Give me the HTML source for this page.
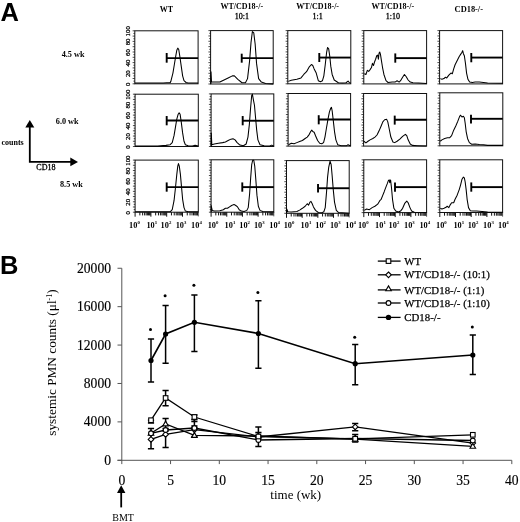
<!DOCTYPE html><html><head><meta charset="utf-8"><style>html,body{margin:0;padding:0;background:#fff;}svg{display:block;filter:blur(0.35px)}</style></head><body>
<svg width="520" height="522" viewBox="0 0 520 522">
<rect width="520" height="522" fill="#fff"/>
<text x="0.4" y="21.2" font-family="Liberation Sans" font-weight="bold" font-size="25.5" fill="#000">A</text>
<text x="0.1" y="273.7" font-family="Liberation Sans" font-weight="bold" font-size="25.5" fill="#000">B</text>
<text x="61.7" y="57" font-family="Liberation Serif" font-weight="bold" font-size="8.2">4.5 wk</text>
<text x="55.8" y="124" font-family="Liberation Serif" font-weight="bold" font-size="8.2">6.0 wk</text>
<text x="60" y="186.5" font-family="Liberation Serif" font-weight="bold" font-size="8.2">8.5 wk</text>
<text x="166.5" y="12" font-family="Liberation Serif" font-weight="bold" font-size="8" text-anchor="middle">WT</text>
<text x="241.8" y="8.9" font-family="Liberation Serif" font-weight="bold" font-size="8" text-anchor="middle">WT/CD18-/-</text>
<text x="241.8" y="18.8" font-family="Liberation Serif" font-size="8" text-anchor="middle" stroke="#000" stroke-width="0.3">10:1</text>
<text x="317.7" y="8.9" font-family="Liberation Serif" font-weight="bold" font-size="8" text-anchor="middle">WT/CD18-/-</text>
<text x="317.7" y="18.8" font-family="Liberation Serif" font-size="8" text-anchor="middle" stroke="#000" stroke-width="0.3">1:1</text>
<text x="392.8" y="8.9" font-family="Liberation Serif" font-weight="bold" font-size="8" text-anchor="middle">WT/CD18-/-</text>
<text x="392.8" y="18.8" font-family="Liberation Serif" font-size="8" text-anchor="middle" stroke="#000" stroke-width="0.3">1:10</text>
<text x="468.8" y="12" font-family="Liberation Serif" font-weight="bold" font-size="8.4" text-anchor="middle">CD18-/-</text>
<path d="M29.8,127 V161.9 H71" fill="none" stroke="#000" stroke-width="1.8"/>
<path d="M29.8,120 L25.3,127.5 L34.3,127.5 Z" fill="#000"/>
<path d="M78,161.9 L70.3,157.6 L70.3,166.2 Z" fill="#000"/>
<text x="1.5" y="145" font-family="Liberation Serif" font-weight="bold" font-size="8">counts</text>
<text x="36.3" y="170.3" font-family="Liberation Serif" font-size="8" stroke="#000" stroke-width="0.3">CD18</text>
<rect x="134.8" y="30.8" width="63.30" height="53.00" fill="none" stroke="#111" stroke-width="1"/>
<line x1="132.60" y1="83.80" x2="134.8" y2="83.80" stroke="#111" stroke-width="0.75"/>
<line x1="133.40" y1="81.15" x2="134.8" y2="81.15" stroke="#111" stroke-width="0.75"/>
<line x1="132.60" y1="78.50" x2="134.8" y2="78.50" stroke="#111" stroke-width="0.75"/>
<line x1="133.40" y1="75.85" x2="134.8" y2="75.85" stroke="#111" stroke-width="0.75"/>
<line x1="132.60" y1="73.20" x2="134.8" y2="73.20" stroke="#111" stroke-width="0.75"/>
<line x1="133.40" y1="70.55" x2="134.8" y2="70.55" stroke="#111" stroke-width="0.75"/>
<line x1="132.60" y1="67.90" x2="134.8" y2="67.90" stroke="#111" stroke-width="0.75"/>
<line x1="133.40" y1="65.25" x2="134.8" y2="65.25" stroke="#111" stroke-width="0.75"/>
<line x1="132.60" y1="62.60" x2="134.8" y2="62.60" stroke="#111" stroke-width="0.75"/>
<line x1="133.40" y1="59.95" x2="134.8" y2="59.95" stroke="#111" stroke-width="0.75"/>
<line x1="132.60" y1="57.30" x2="134.8" y2="57.30" stroke="#111" stroke-width="0.75"/>
<line x1="133.40" y1="54.65" x2="134.8" y2="54.65" stroke="#111" stroke-width="0.75"/>
<line x1="132.60" y1="52.00" x2="134.8" y2="52.00" stroke="#111" stroke-width="0.75"/>
<line x1="133.40" y1="49.35" x2="134.8" y2="49.35" stroke="#111" stroke-width="0.75"/>
<line x1="132.60" y1="46.70" x2="134.8" y2="46.70" stroke="#111" stroke-width="0.75"/>
<line x1="133.40" y1="44.05" x2="134.8" y2="44.05" stroke="#111" stroke-width="0.75"/>
<line x1="132.60" y1="41.40" x2="134.8" y2="41.40" stroke="#111" stroke-width="0.75"/>
<line x1="133.40" y1="38.75" x2="134.8" y2="38.75" stroke="#111" stroke-width="0.75"/>
<line x1="132.60" y1="36.10" x2="134.8" y2="36.10" stroke="#111" stroke-width="0.75"/>
<line x1="133.40" y1="33.45" x2="134.8" y2="33.45" stroke="#111" stroke-width="0.75"/>
<line x1="132.60" y1="30.80" x2="134.8" y2="30.80" stroke="#111" stroke-width="0.75"/>
<polyline points="134.85,83.05 163.23,83.05 166.69,82.77 170.15,82.63 170.85,81.38 172.92,73.08 174.31,64.77 175.69,56.46 176.80,50.23 177.77,48.15 178.74,49.54 179.85,56.46 181.23,66.15 182.62,75.85 184.00,80.69 186.08,82.49 188.15,83.05 198.12,83.05" fill="none" stroke="#000" stroke-width="1.05" stroke-linejoin="round"/>
<line x1="166.69" y1="58.12" x2="198.10" y2="58.12" stroke="#000" stroke-width="1.9"/>
<line x1="166.69" y1="53.00" x2="166.69" y2="62.69" stroke="#000" stroke-width="1.9"/>
<text transform="translate(130,84.30) rotate(-90)" font-family="Liberation Serif" font-size="6.8" text-anchor="middle" stroke="#000" stroke-width="0.25">0</text>
<text transform="translate(130,73.70) rotate(-90)" font-family="Liberation Serif" font-size="6.8" text-anchor="middle" stroke="#000" stroke-width="0.25">20</text>
<text transform="translate(130,63.10) rotate(-90)" font-family="Liberation Serif" font-size="6.8" text-anchor="middle" stroke="#000" stroke-width="0.25">40</text>
<text transform="translate(130,52.50) rotate(-90)" font-family="Liberation Serif" font-size="6.8" text-anchor="middle" stroke="#000" stroke-width="0.25">60</text>
<text transform="translate(130,41.90) rotate(-90)" font-family="Liberation Serif" font-size="6.8" text-anchor="middle" stroke="#000" stroke-width="0.25">80</text>
<text transform="translate(130,31.30) rotate(-90)" font-family="Liberation Serif" font-size="6.8" text-anchor="middle" stroke="#000" stroke-width="0.25">100</text>
<rect x="210.6" y="30.6" width="62.60" height="53.40" fill="none" stroke="#111" stroke-width="1"/>
<line x1="208.40" y1="84.00" x2="210.6" y2="84.00" stroke="#111" stroke-width="0.75"/>
<line x1="209.20" y1="81.33" x2="210.6" y2="81.33" stroke="#111" stroke-width="0.75"/>
<line x1="208.40" y1="78.66" x2="210.6" y2="78.66" stroke="#111" stroke-width="0.75"/>
<line x1="209.20" y1="75.99" x2="210.6" y2="75.99" stroke="#111" stroke-width="0.75"/>
<line x1="208.40" y1="73.32" x2="210.6" y2="73.32" stroke="#111" stroke-width="0.75"/>
<line x1="209.20" y1="70.65" x2="210.6" y2="70.65" stroke="#111" stroke-width="0.75"/>
<line x1="208.40" y1="67.98" x2="210.6" y2="67.98" stroke="#111" stroke-width="0.75"/>
<line x1="209.20" y1="65.31" x2="210.6" y2="65.31" stroke="#111" stroke-width="0.75"/>
<line x1="208.40" y1="62.64" x2="210.6" y2="62.64" stroke="#111" stroke-width="0.75"/>
<line x1="209.20" y1="59.97" x2="210.6" y2="59.97" stroke="#111" stroke-width="0.75"/>
<line x1="208.40" y1="57.30" x2="210.6" y2="57.30" stroke="#111" stroke-width="0.75"/>
<line x1="209.20" y1="54.63" x2="210.6" y2="54.63" stroke="#111" stroke-width="0.75"/>
<line x1="208.40" y1="51.96" x2="210.6" y2="51.96" stroke="#111" stroke-width="0.75"/>
<line x1="209.20" y1="49.29" x2="210.6" y2="49.29" stroke="#111" stroke-width="0.75"/>
<line x1="208.40" y1="46.62" x2="210.6" y2="46.62" stroke="#111" stroke-width="0.75"/>
<line x1="209.20" y1="43.95" x2="210.6" y2="43.95" stroke="#111" stroke-width="0.75"/>
<line x1="208.40" y1="41.28" x2="210.6" y2="41.28" stroke="#111" stroke-width="0.75"/>
<line x1="209.20" y1="38.61" x2="210.6" y2="38.61" stroke="#111" stroke-width="0.75"/>
<line x1="208.40" y1="35.94" x2="210.6" y2="35.94" stroke="#111" stroke-width="0.75"/>
<line x1="209.20" y1="33.27" x2="210.6" y2="33.27" stroke="#111" stroke-width="0.75"/>
<line x1="208.40" y1="30.60" x2="210.6" y2="30.60" stroke="#111" stroke-width="0.75"/>
<polyline points="210.85,83.88 210.98,71.69 211.54,82.08 215.69,82.08 219.85,82.08 224.00,80.00 228.15,77.92 232.31,75.85 234.38,75.85 237.85,79.31 242.00,82.77 245.46,82.77 247.54,78.62 249.62,60.62 251.00,42.62 252.38,31.54 253.77,32.92 255.15,44.00 256.54,63.38 258.62,78.62 261.38,82.08 265.54,83.46 273.15,83.88" fill="none" stroke="#000" stroke-width="1.05" stroke-linejoin="round"/>
<line x1="241.72" y1="58.12" x2="273.20" y2="58.12" stroke="#000" stroke-width="1.9"/>
<line x1="241.72" y1="53.69" x2="241.72" y2="62.69" stroke="#000" stroke-width="1.9"/>
<rect x="287.8" y="30.6" width="63.00" height="53.20" fill="none" stroke="#111" stroke-width="1"/>
<line x1="285.60" y1="83.80" x2="287.8" y2="83.80" stroke="#111" stroke-width="0.75"/>
<line x1="286.40" y1="81.14" x2="287.8" y2="81.14" stroke="#111" stroke-width="0.75"/>
<line x1="285.60" y1="78.48" x2="287.8" y2="78.48" stroke="#111" stroke-width="0.75"/>
<line x1="286.40" y1="75.82" x2="287.8" y2="75.82" stroke="#111" stroke-width="0.75"/>
<line x1="285.60" y1="73.16" x2="287.8" y2="73.16" stroke="#111" stroke-width="0.75"/>
<line x1="286.40" y1="70.50" x2="287.8" y2="70.50" stroke="#111" stroke-width="0.75"/>
<line x1="285.60" y1="67.84" x2="287.8" y2="67.84" stroke="#111" stroke-width="0.75"/>
<line x1="286.40" y1="65.18" x2="287.8" y2="65.18" stroke="#111" stroke-width="0.75"/>
<line x1="285.60" y1="62.52" x2="287.8" y2="62.52" stroke="#111" stroke-width="0.75"/>
<line x1="286.40" y1="59.86" x2="287.8" y2="59.86" stroke="#111" stroke-width="0.75"/>
<line x1="285.60" y1="57.20" x2="287.8" y2="57.20" stroke="#111" stroke-width="0.75"/>
<line x1="286.40" y1="54.54" x2="287.8" y2="54.54" stroke="#111" stroke-width="0.75"/>
<line x1="285.60" y1="51.88" x2="287.8" y2="51.88" stroke="#111" stroke-width="0.75"/>
<line x1="286.40" y1="49.22" x2="287.8" y2="49.22" stroke="#111" stroke-width="0.75"/>
<line x1="285.60" y1="46.56" x2="287.8" y2="46.56" stroke="#111" stroke-width="0.75"/>
<line x1="286.40" y1="43.90" x2="287.8" y2="43.90" stroke="#111" stroke-width="0.75"/>
<line x1="285.60" y1="41.24" x2="287.8" y2="41.24" stroke="#111" stroke-width="0.75"/>
<line x1="286.40" y1="38.58" x2="287.8" y2="38.58" stroke="#111" stroke-width="0.75"/>
<line x1="285.60" y1="35.92" x2="287.8" y2="35.92" stroke="#111" stroke-width="0.75"/>
<line x1="286.40" y1="33.26" x2="287.8" y2="33.26" stroke="#111" stroke-width="0.75"/>
<line x1="285.60" y1="30.60" x2="287.8" y2="30.60" stroke="#111" stroke-width="0.75"/>
<polyline points="288.26,81.38 291.31,80.28 296.85,79.31 301.00,77.92 303.77,74.46 306.54,71.69 309.31,66.85 311.38,64.49 312.77,65.46 314.15,68.92 316.23,73.08 318.31,80.69 320.38,81.66 322.46,80.69 323.85,75.85 325.23,64.77 326.62,52.31 327.58,47.46 328.69,48.85 329.80,56.46 330.77,66.15 332.15,74.46 334.23,80.00 338.38,82.77 342.54,83.05 346.00,82.77 348.08,81.11 349.46,82.77 350.85,83.05" fill="none" stroke="#000" stroke-width="1.05" stroke-linejoin="round"/>
<line x1="319.28" y1="57.57" x2="350.80" y2="57.57" stroke="#000" stroke-width="1.9"/>
<line x1="319.28" y1="53.00" x2="319.28" y2="62.00" stroke="#000" stroke-width="1.9"/>
<rect x="363.8" y="30.6" width="62.80" height="53.30" fill="none" stroke="#111" stroke-width="1"/>
<line x1="361.60" y1="83.90" x2="363.8" y2="83.90" stroke="#111" stroke-width="0.75"/>
<line x1="362.40" y1="81.23" x2="363.8" y2="81.23" stroke="#111" stroke-width="0.75"/>
<line x1="361.60" y1="78.57" x2="363.8" y2="78.57" stroke="#111" stroke-width="0.75"/>
<line x1="362.40" y1="75.91" x2="363.8" y2="75.91" stroke="#111" stroke-width="0.75"/>
<line x1="361.60" y1="73.24" x2="363.8" y2="73.24" stroke="#111" stroke-width="0.75"/>
<line x1="362.40" y1="70.58" x2="363.8" y2="70.58" stroke="#111" stroke-width="0.75"/>
<line x1="361.60" y1="67.91" x2="363.8" y2="67.91" stroke="#111" stroke-width="0.75"/>
<line x1="362.40" y1="65.25" x2="363.8" y2="65.25" stroke="#111" stroke-width="0.75"/>
<line x1="361.60" y1="62.58" x2="363.8" y2="62.58" stroke="#111" stroke-width="0.75"/>
<line x1="362.40" y1="59.92" x2="363.8" y2="59.92" stroke="#111" stroke-width="0.75"/>
<line x1="361.60" y1="57.25" x2="363.8" y2="57.25" stroke="#111" stroke-width="0.75"/>
<line x1="362.40" y1="54.59" x2="363.8" y2="54.59" stroke="#111" stroke-width="0.75"/>
<line x1="361.60" y1="51.92" x2="363.8" y2="51.92" stroke="#111" stroke-width="0.75"/>
<line x1="362.40" y1="49.26" x2="363.8" y2="49.26" stroke="#111" stroke-width="0.75"/>
<line x1="361.60" y1="46.59" x2="363.8" y2="46.59" stroke="#111" stroke-width="0.75"/>
<line x1="362.40" y1="43.92" x2="363.8" y2="43.92" stroke="#111" stroke-width="0.75"/>
<line x1="361.60" y1="41.26" x2="363.8" y2="41.26" stroke="#111" stroke-width="0.75"/>
<line x1="362.40" y1="38.60" x2="363.8" y2="38.60" stroke="#111" stroke-width="0.75"/>
<line x1="361.60" y1="35.93" x2="363.8" y2="35.93" stroke="#111" stroke-width="0.75"/>
<line x1="362.40" y1="33.27" x2="363.8" y2="33.27" stroke="#111" stroke-width="0.75"/>
<line x1="361.60" y1="30.60" x2="363.8" y2="30.60" stroke="#111" stroke-width="0.75"/>
<polyline points="364.26,73.77 365.92,74.46 367.31,70.31 368.69,71.42 370.08,69.62 371.46,67.54 372.43,63.38 373.54,65.46 374.51,62.00 375.62,59.23 376.72,55.77 377.69,55.08 378.38,59.23 379.08,53.00 379.77,52.03 380.46,54.38 381.43,60.62 382.54,67.54 383.92,74.46 386.00,80.69 388.08,82.49 392.23,82.08 395.00,82.08 397.08,80.69 399.15,82.08 400.54,80.69 402.62,77.23 404.42,74.46 406.08,76.54 408.15,80.00 410.23,82.08 413.00,82.77 418.54,83.05 426.57,83.46" fill="none" stroke="#000" stroke-width="1.05" stroke-linejoin="round"/>
<line x1="395.28" y1="58.12" x2="426.60" y2="58.12" stroke="#000" stroke-width="1.9"/>
<line x1="395.28" y1="53.42" x2="395.28" y2="62.69" stroke="#000" stroke-width="1.9"/>
<rect x="439.6" y="30.6" width="63.00" height="53.30" fill="none" stroke="#111" stroke-width="1"/>
<line x1="437.40" y1="83.90" x2="439.6" y2="83.90" stroke="#111" stroke-width="0.75"/>
<line x1="438.20" y1="81.23" x2="439.6" y2="81.23" stroke="#111" stroke-width="0.75"/>
<line x1="437.40" y1="78.57" x2="439.6" y2="78.57" stroke="#111" stroke-width="0.75"/>
<line x1="438.20" y1="75.91" x2="439.6" y2="75.91" stroke="#111" stroke-width="0.75"/>
<line x1="437.40" y1="73.24" x2="439.6" y2="73.24" stroke="#111" stroke-width="0.75"/>
<line x1="438.20" y1="70.58" x2="439.6" y2="70.58" stroke="#111" stroke-width="0.75"/>
<line x1="437.40" y1="67.91" x2="439.6" y2="67.91" stroke="#111" stroke-width="0.75"/>
<line x1="438.20" y1="65.25" x2="439.6" y2="65.25" stroke="#111" stroke-width="0.75"/>
<line x1="437.40" y1="62.58" x2="439.6" y2="62.58" stroke="#111" stroke-width="0.75"/>
<line x1="438.20" y1="59.92" x2="439.6" y2="59.92" stroke="#111" stroke-width="0.75"/>
<line x1="437.40" y1="57.25" x2="439.6" y2="57.25" stroke="#111" stroke-width="0.75"/>
<line x1="438.20" y1="54.59" x2="439.6" y2="54.59" stroke="#111" stroke-width="0.75"/>
<line x1="437.40" y1="51.92" x2="439.6" y2="51.92" stroke="#111" stroke-width="0.75"/>
<line x1="438.20" y1="49.26" x2="439.6" y2="49.26" stroke="#111" stroke-width="0.75"/>
<line x1="437.40" y1="46.59" x2="439.6" y2="46.59" stroke="#111" stroke-width="0.75"/>
<line x1="438.20" y1="43.92" x2="439.6" y2="43.92" stroke="#111" stroke-width="0.75"/>
<line x1="437.40" y1="41.26" x2="439.6" y2="41.26" stroke="#111" stroke-width="0.75"/>
<line x1="438.20" y1="38.60" x2="439.6" y2="38.60" stroke="#111" stroke-width="0.75"/>
<line x1="437.40" y1="35.93" x2="439.6" y2="35.93" stroke="#111" stroke-width="0.75"/>
<line x1="438.20" y1="33.27" x2="439.6" y2="33.27" stroke="#111" stroke-width="0.75"/>
<line x1="437.40" y1="30.60" x2="439.6" y2="30.60" stroke="#111" stroke-width="0.75"/>
<polyline points="440.26,78.62 441.92,79.31 444.00,78.62 445.38,77.23 446.77,77.92 448.85,75.15 450.92,73.08 452.31,73.77 453.69,68.92 455.08,64.77 456.46,62.00 457.85,59.23 459.23,56.46 460.62,54.38 462.00,52.31 462.69,50.65 463.38,53.69 464.35,55.77 465.46,63.38 466.57,73.08 467.95,79.31 469.62,82.08 472.38,82.49 475.15,82.08 479.31,82.08 483.46,82.49 487.62,83.05 502.57,83.18" fill="none" stroke="#000" stroke-width="1.05" stroke-linejoin="round"/>
<line x1="471.28" y1="57.57" x2="502.60" y2="57.57" stroke="#000" stroke-width="1.9"/>
<line x1="471.28" y1="53.00" x2="471.28" y2="62.28" stroke="#000" stroke-width="1.9"/>
<rect x="135.1" y="94.2" width="63.20" height="52.30" fill="none" stroke="#111" stroke-width="1"/>
<line x1="132.90" y1="146.50" x2="135.1" y2="146.50" stroke="#111" stroke-width="0.75"/>
<line x1="133.70" y1="143.88" x2="135.1" y2="143.88" stroke="#111" stroke-width="0.75"/>
<line x1="132.90" y1="141.27" x2="135.1" y2="141.27" stroke="#111" stroke-width="0.75"/>
<line x1="133.70" y1="138.66" x2="135.1" y2="138.66" stroke="#111" stroke-width="0.75"/>
<line x1="132.90" y1="136.04" x2="135.1" y2="136.04" stroke="#111" stroke-width="0.75"/>
<line x1="133.70" y1="133.43" x2="135.1" y2="133.43" stroke="#111" stroke-width="0.75"/>
<line x1="132.90" y1="130.81" x2="135.1" y2="130.81" stroke="#111" stroke-width="0.75"/>
<line x1="133.70" y1="128.19" x2="135.1" y2="128.19" stroke="#111" stroke-width="0.75"/>
<line x1="132.90" y1="125.58" x2="135.1" y2="125.58" stroke="#111" stroke-width="0.75"/>
<line x1="133.70" y1="122.97" x2="135.1" y2="122.97" stroke="#111" stroke-width="0.75"/>
<line x1="132.90" y1="120.35" x2="135.1" y2="120.35" stroke="#111" stroke-width="0.75"/>
<line x1="133.70" y1="117.73" x2="135.1" y2="117.73" stroke="#111" stroke-width="0.75"/>
<line x1="132.90" y1="115.12" x2="135.1" y2="115.12" stroke="#111" stroke-width="0.75"/>
<line x1="133.70" y1="112.50" x2="135.1" y2="112.50" stroke="#111" stroke-width="0.75"/>
<line x1="132.90" y1="109.89" x2="135.1" y2="109.89" stroke="#111" stroke-width="0.75"/>
<line x1="133.70" y1="107.28" x2="135.1" y2="107.28" stroke="#111" stroke-width="0.75"/>
<line x1="132.90" y1="104.66" x2="135.1" y2="104.66" stroke="#111" stroke-width="0.75"/>
<line x1="133.70" y1="102.05" x2="135.1" y2="102.05" stroke="#111" stroke-width="0.75"/>
<line x1="132.90" y1="99.43" x2="135.1" y2="99.43" stroke="#111" stroke-width="0.75"/>
<line x1="133.70" y1="96.81" x2="135.1" y2="96.81" stroke="#111" stroke-width="0.75"/>
<line x1="132.90" y1="94.20" x2="135.1" y2="94.20" stroke="#111" stroke-width="0.75"/>
<polyline points="135.12,146.08 157.69,146.08 166.00,145.38 170.15,144.69 172.23,142.62 174.03,135.69 175.42,127.38 176.80,119.08 178.18,114.23 179.15,112.85 180.12,114.23 181.23,121.85 182.62,132.92 184.00,141.23 185.38,144.69 188.15,145.66 192.31,146.08 195.08,145.38 198.26,146.08" fill="none" stroke="#000" stroke-width="1.05" stroke-linejoin="round"/>
<line x1="166.69" y1="120.46" x2="198.30" y2="120.46" stroke="#000" stroke-width="1.9"/>
<line x1="166.69" y1="116.03" x2="166.69" y2="125.31" stroke="#000" stroke-width="1.9"/>
<text transform="translate(130,147.00) rotate(-90)" font-family="Liberation Serif" font-size="6.8" text-anchor="middle" stroke="#000" stroke-width="0.25">0</text>
<text transform="translate(130,136.54) rotate(-90)" font-family="Liberation Serif" font-size="6.8" text-anchor="middle" stroke="#000" stroke-width="0.25">20</text>
<text transform="translate(130,126.08) rotate(-90)" font-family="Liberation Serif" font-size="6.8" text-anchor="middle" stroke="#000" stroke-width="0.25">40</text>
<text transform="translate(130,115.62) rotate(-90)" font-family="Liberation Serif" font-size="6.8" text-anchor="middle" stroke="#000" stroke-width="0.25">60</text>
<text transform="translate(130,105.16) rotate(-90)" font-family="Liberation Serif" font-size="6.8" text-anchor="middle" stroke="#000" stroke-width="0.25">80</text>
<text transform="translate(130,94.70) rotate(-90)" font-family="Liberation Serif" font-size="6.8" text-anchor="middle" stroke="#000" stroke-width="0.25">100</text>
<rect x="211.1" y="93.9" width="62.70" height="52.60" fill="none" stroke="#111" stroke-width="1"/>
<line x1="208.90" y1="146.50" x2="211.1" y2="146.50" stroke="#111" stroke-width="0.75"/>
<line x1="209.70" y1="143.87" x2="211.1" y2="143.87" stroke="#111" stroke-width="0.75"/>
<line x1="208.90" y1="141.24" x2="211.1" y2="141.24" stroke="#111" stroke-width="0.75"/>
<line x1="209.70" y1="138.61" x2="211.1" y2="138.61" stroke="#111" stroke-width="0.75"/>
<line x1="208.90" y1="135.98" x2="211.1" y2="135.98" stroke="#111" stroke-width="0.75"/>
<line x1="209.70" y1="133.35" x2="211.1" y2="133.35" stroke="#111" stroke-width="0.75"/>
<line x1="208.90" y1="130.72" x2="211.1" y2="130.72" stroke="#111" stroke-width="0.75"/>
<line x1="209.70" y1="128.09" x2="211.1" y2="128.09" stroke="#111" stroke-width="0.75"/>
<line x1="208.90" y1="125.46" x2="211.1" y2="125.46" stroke="#111" stroke-width="0.75"/>
<line x1="209.70" y1="122.83" x2="211.1" y2="122.83" stroke="#111" stroke-width="0.75"/>
<line x1="208.90" y1="120.20" x2="211.1" y2="120.20" stroke="#111" stroke-width="0.75"/>
<line x1="209.70" y1="117.57" x2="211.1" y2="117.57" stroke="#111" stroke-width="0.75"/>
<line x1="208.90" y1="114.94" x2="211.1" y2="114.94" stroke="#111" stroke-width="0.75"/>
<line x1="209.70" y1="112.31" x2="211.1" y2="112.31" stroke="#111" stroke-width="0.75"/>
<line x1="208.90" y1="109.68" x2="211.1" y2="109.68" stroke="#111" stroke-width="0.75"/>
<line x1="209.70" y1="107.05" x2="211.1" y2="107.05" stroke="#111" stroke-width="0.75"/>
<line x1="208.90" y1="104.42" x2="211.1" y2="104.42" stroke="#111" stroke-width="0.75"/>
<line x1="209.70" y1="101.79" x2="211.1" y2="101.79" stroke="#111" stroke-width="0.75"/>
<line x1="208.90" y1="99.16" x2="211.1" y2="99.16" stroke="#111" stroke-width="0.75"/>
<line x1="209.70" y1="96.53" x2="211.1" y2="96.53" stroke="#111" stroke-width="0.75"/>
<line x1="208.90" y1="93.90" x2="211.1" y2="93.90" stroke="#111" stroke-width="0.75"/>
<polyline points="211.12,146.49 211.26,132.92 211.82,144.69 214.31,144.00 218.46,143.31 222.62,142.62 225.38,141.92 228.15,140.54 230.92,139.15 233.00,138.74 235.08,139.85 237.15,142.62 239.92,145.11 243.38,145.80 246.15,144.00 247.95,137.08 249.34,124.62 250.58,108.00 251.69,95.54 252.38,94.15 253.35,99.69 254.46,105.23 255.57,117.69 256.68,130.15 257.92,139.85 260.00,144.69 264.15,145.80 269.69,146.08 271.77,145.11 273.85,146.08" fill="none" stroke="#000" stroke-width="1.05" stroke-linejoin="round"/>
<line x1="242.69" y1="120.74" x2="273.80" y2="120.74" stroke="#000" stroke-width="1.9"/>
<line x1="242.69" y1="116.03" x2="242.69" y2="125.31" stroke="#000" stroke-width="1.9"/>
<rect x="288.1" y="93.5" width="62.50" height="52.60" fill="none" stroke="#111" stroke-width="1"/>
<line x1="285.90" y1="146.10" x2="288.1" y2="146.10" stroke="#111" stroke-width="0.75"/>
<line x1="286.70" y1="143.47" x2="288.1" y2="143.47" stroke="#111" stroke-width="0.75"/>
<line x1="285.90" y1="140.84" x2="288.1" y2="140.84" stroke="#111" stroke-width="0.75"/>
<line x1="286.70" y1="138.21" x2="288.1" y2="138.21" stroke="#111" stroke-width="0.75"/>
<line x1="285.90" y1="135.58" x2="288.1" y2="135.58" stroke="#111" stroke-width="0.75"/>
<line x1="286.70" y1="132.95" x2="288.1" y2="132.95" stroke="#111" stroke-width="0.75"/>
<line x1="285.90" y1="130.32" x2="288.1" y2="130.32" stroke="#111" stroke-width="0.75"/>
<line x1="286.70" y1="127.69" x2="288.1" y2="127.69" stroke="#111" stroke-width="0.75"/>
<line x1="285.90" y1="125.06" x2="288.1" y2="125.06" stroke="#111" stroke-width="0.75"/>
<line x1="286.70" y1="122.43" x2="288.1" y2="122.43" stroke="#111" stroke-width="0.75"/>
<line x1="285.90" y1="119.80" x2="288.1" y2="119.80" stroke="#111" stroke-width="0.75"/>
<line x1="286.70" y1="117.17" x2="288.1" y2="117.17" stroke="#111" stroke-width="0.75"/>
<line x1="285.90" y1="114.54" x2="288.1" y2="114.54" stroke="#111" stroke-width="0.75"/>
<line x1="286.70" y1="111.91" x2="288.1" y2="111.91" stroke="#111" stroke-width="0.75"/>
<line x1="285.90" y1="109.28" x2="288.1" y2="109.28" stroke="#111" stroke-width="0.75"/>
<line x1="286.70" y1="106.65" x2="288.1" y2="106.65" stroke="#111" stroke-width="0.75"/>
<line x1="285.90" y1="104.02" x2="288.1" y2="104.02" stroke="#111" stroke-width="0.75"/>
<line x1="286.70" y1="101.39" x2="288.1" y2="101.39" stroke="#111" stroke-width="0.75"/>
<line x1="285.90" y1="98.76" x2="288.1" y2="98.76" stroke="#111" stroke-width="0.75"/>
<line x1="286.70" y1="96.13" x2="288.1" y2="96.13" stroke="#111" stroke-width="0.75"/>
<line x1="285.90" y1="93.50" x2="288.1" y2="93.50" stroke="#111" stroke-width="0.75"/>
<polyline points="288.54,144.69 291.31,143.31 294.08,143.72 296.85,142.62 299.62,141.51 302.38,140.54 305.15,138.46 307.23,137.08 309.31,134.31 310.69,131.54 311.80,130.15 312.77,131.54 314.15,132.23 315.54,135.69 317.62,140.54 319.69,143.31 321.77,143.72 323.57,142.62 324.95,137.08 326.34,128.77 328.00,119.08 329.38,112.15 330.77,108.00 331.46,107.31 332.15,110.77 333.12,119.08 334.51,131.54 335.89,139.85 337.69,144.69 341.15,145.66 346.69,145.66 348.08,144.69 350.57,146.08" fill="none" stroke="#000" stroke-width="1.05" stroke-linejoin="round"/>
<line x1="318.72" y1="119.49" x2="350.60" y2="119.49" stroke="#000" stroke-width="1.9"/>
<line x1="318.72" y1="115.20" x2="318.72" y2="124.34" stroke="#000" stroke-width="1.9"/>
<rect x="363.6" y="93.5" width="63.00" height="52.60" fill="none" stroke="#111" stroke-width="1"/>
<line x1="361.40" y1="146.10" x2="363.6" y2="146.10" stroke="#111" stroke-width="0.75"/>
<line x1="362.20" y1="143.47" x2="363.6" y2="143.47" stroke="#111" stroke-width="0.75"/>
<line x1="361.40" y1="140.84" x2="363.6" y2="140.84" stroke="#111" stroke-width="0.75"/>
<line x1="362.20" y1="138.21" x2="363.6" y2="138.21" stroke="#111" stroke-width="0.75"/>
<line x1="361.40" y1="135.58" x2="363.6" y2="135.58" stroke="#111" stroke-width="0.75"/>
<line x1="362.20" y1="132.95" x2="363.6" y2="132.95" stroke="#111" stroke-width="0.75"/>
<line x1="361.40" y1="130.32" x2="363.6" y2="130.32" stroke="#111" stroke-width="0.75"/>
<line x1="362.20" y1="127.69" x2="363.6" y2="127.69" stroke="#111" stroke-width="0.75"/>
<line x1="361.40" y1="125.06" x2="363.6" y2="125.06" stroke="#111" stroke-width="0.75"/>
<line x1="362.20" y1="122.43" x2="363.6" y2="122.43" stroke="#111" stroke-width="0.75"/>
<line x1="361.40" y1="119.80" x2="363.6" y2="119.80" stroke="#111" stroke-width="0.75"/>
<line x1="362.20" y1="117.17" x2="363.6" y2="117.17" stroke="#111" stroke-width="0.75"/>
<line x1="361.40" y1="114.54" x2="363.6" y2="114.54" stroke="#111" stroke-width="0.75"/>
<line x1="362.20" y1="111.91" x2="363.6" y2="111.91" stroke="#111" stroke-width="0.75"/>
<line x1="361.40" y1="109.28" x2="363.6" y2="109.28" stroke="#111" stroke-width="0.75"/>
<line x1="362.20" y1="106.65" x2="363.6" y2="106.65" stroke="#111" stroke-width="0.75"/>
<line x1="361.40" y1="104.02" x2="363.6" y2="104.02" stroke="#111" stroke-width="0.75"/>
<line x1="362.20" y1="101.39" x2="363.6" y2="101.39" stroke="#111" stroke-width="0.75"/>
<line x1="361.40" y1="98.76" x2="363.6" y2="98.76" stroke="#111" stroke-width="0.75"/>
<line x1="362.20" y1="96.13" x2="363.6" y2="96.13" stroke="#111" stroke-width="0.75"/>
<line x1="361.40" y1="93.50" x2="363.6" y2="93.50" stroke="#111" stroke-width="0.75"/>
<polyline points="363.85,141.23 365.92,142.89 368.00,141.23 370.08,139.85 372.85,138.46 374.92,137.08 377.00,135.00 379.08,130.85 381.15,126.00 382.82,121.85 384.62,119.77 386.69,119.35 387.80,121.85 389.18,128.77 390.85,137.08 392.92,141.92 394.72,142.62 397.08,141.23 399.85,139.15 402.62,136.38 405.38,134.31 406.77,135.69 408.15,139.85 410.23,144.00 412.31,145.38 417.15,145.66 426.57,146.08" fill="none" stroke="#000" stroke-width="1.05" stroke-linejoin="round"/>
<line x1="394.72" y1="119.77" x2="426.60" y2="119.77" stroke="#000" stroke-width="1.9"/>
<line x1="394.72" y1="115.62" x2="394.72" y2="124.62" stroke="#000" stroke-width="1.9"/>
<rect x="439.8" y="92.8" width="63.00" height="53.00" fill="none" stroke="#111" stroke-width="1"/>
<line x1="437.60" y1="145.80" x2="439.8" y2="145.80" stroke="#111" stroke-width="0.75"/>
<line x1="438.40" y1="143.15" x2="439.8" y2="143.15" stroke="#111" stroke-width="0.75"/>
<line x1="437.60" y1="140.50" x2="439.8" y2="140.50" stroke="#111" stroke-width="0.75"/>
<line x1="438.40" y1="137.85" x2="439.8" y2="137.85" stroke="#111" stroke-width="0.75"/>
<line x1="437.60" y1="135.20" x2="439.8" y2="135.20" stroke="#111" stroke-width="0.75"/>
<line x1="438.40" y1="132.55" x2="439.8" y2="132.55" stroke="#111" stroke-width="0.75"/>
<line x1="437.60" y1="129.90" x2="439.8" y2="129.90" stroke="#111" stroke-width="0.75"/>
<line x1="438.40" y1="127.25" x2="439.8" y2="127.25" stroke="#111" stroke-width="0.75"/>
<line x1="437.60" y1="124.60" x2="439.8" y2="124.60" stroke="#111" stroke-width="0.75"/>
<line x1="438.40" y1="121.95" x2="439.8" y2="121.95" stroke="#111" stroke-width="0.75"/>
<line x1="437.60" y1="119.30" x2="439.8" y2="119.30" stroke="#111" stroke-width="0.75"/>
<line x1="438.40" y1="116.65" x2="439.8" y2="116.65" stroke="#111" stroke-width="0.75"/>
<line x1="437.60" y1="114.00" x2="439.8" y2="114.00" stroke="#111" stroke-width="0.75"/>
<line x1="438.40" y1="111.35" x2="439.8" y2="111.35" stroke="#111" stroke-width="0.75"/>
<line x1="437.60" y1="108.70" x2="439.8" y2="108.70" stroke="#111" stroke-width="0.75"/>
<line x1="438.40" y1="106.05" x2="439.8" y2="106.05" stroke="#111" stroke-width="0.75"/>
<line x1="437.60" y1="103.40" x2="439.8" y2="103.40" stroke="#111" stroke-width="0.75"/>
<line x1="438.40" y1="100.75" x2="439.8" y2="100.75" stroke="#111" stroke-width="0.75"/>
<line x1="437.60" y1="98.10" x2="439.8" y2="98.10" stroke="#111" stroke-width="0.75"/>
<line x1="438.40" y1="95.45" x2="439.8" y2="95.45" stroke="#111" stroke-width="0.75"/>
<line x1="437.60" y1="92.80" x2="439.8" y2="92.80" stroke="#111" stroke-width="0.75"/>
<polyline points="440.26,141.23 441.92,139.85 444.69,138.46 447.46,137.77 449.54,137.77 451.62,135.69 453.69,130.15 455.77,126.00 457.85,121.15 459.65,116.31 460.62,115.20 462.00,117.00 463.38,116.31 464.35,117.69 465.18,123.23 466.15,131.54 467.54,138.46 469.34,142.62 471.69,144.28 475.15,144.00 479.31,144.42 483.46,144.69 487.62,145.38 493.15,145.38 502.85,145.38" fill="none" stroke="#000" stroke-width="1.05" stroke-linejoin="round"/>
<line x1="471.00" y1="118.80" x2="502.80" y2="118.80" stroke="#000" stroke-width="1.9"/>
<line x1="471.00" y1="114.65" x2="471.00" y2="123.51" stroke="#000" stroke-width="1.9"/>
<rect x="135.1" y="160.1" width="63.20" height="52.10" fill="none" stroke="#111" stroke-width="1"/>
<line x1="132.90" y1="212.20" x2="135.1" y2="212.20" stroke="#111" stroke-width="0.75"/>
<line x1="133.70" y1="209.59" x2="135.1" y2="209.59" stroke="#111" stroke-width="0.75"/>
<line x1="132.90" y1="206.99" x2="135.1" y2="206.99" stroke="#111" stroke-width="0.75"/>
<line x1="133.70" y1="204.38" x2="135.1" y2="204.38" stroke="#111" stroke-width="0.75"/>
<line x1="132.90" y1="201.78" x2="135.1" y2="201.78" stroke="#111" stroke-width="0.75"/>
<line x1="133.70" y1="199.17" x2="135.1" y2="199.17" stroke="#111" stroke-width="0.75"/>
<line x1="132.90" y1="196.57" x2="135.1" y2="196.57" stroke="#111" stroke-width="0.75"/>
<line x1="133.70" y1="193.97" x2="135.1" y2="193.97" stroke="#111" stroke-width="0.75"/>
<line x1="132.90" y1="191.36" x2="135.1" y2="191.36" stroke="#111" stroke-width="0.75"/>
<line x1="133.70" y1="188.75" x2="135.1" y2="188.75" stroke="#111" stroke-width="0.75"/>
<line x1="132.90" y1="186.15" x2="135.1" y2="186.15" stroke="#111" stroke-width="0.75"/>
<line x1="133.70" y1="183.54" x2="135.1" y2="183.54" stroke="#111" stroke-width="0.75"/>
<line x1="132.90" y1="180.94" x2="135.1" y2="180.94" stroke="#111" stroke-width="0.75"/>
<line x1="133.70" y1="178.33" x2="135.1" y2="178.33" stroke="#111" stroke-width="0.75"/>
<line x1="132.90" y1="175.73" x2="135.1" y2="175.73" stroke="#111" stroke-width="0.75"/>
<line x1="133.70" y1="173.12" x2="135.1" y2="173.12" stroke="#111" stroke-width="0.75"/>
<line x1="132.90" y1="170.52" x2="135.1" y2="170.52" stroke="#111" stroke-width="0.75"/>
<line x1="133.70" y1="167.91" x2="135.1" y2="167.91" stroke="#111" stroke-width="0.75"/>
<line x1="132.90" y1="165.31" x2="135.1" y2="165.31" stroke="#111" stroke-width="0.75"/>
<line x1="133.70" y1="162.70" x2="135.1" y2="162.70" stroke="#111" stroke-width="0.75"/>
<line x1="132.90" y1="160.10" x2="135.1" y2="160.10" stroke="#111" stroke-width="0.75"/>
<polyline points="135.12,211.77 170.15,211.77 172.23,209.69 174.03,200.69 175.42,188.23 176.80,174.38 177.77,166.08 178.46,163.58 179.29,166.08 180.40,174.38 181.51,186.85 182.62,199.31 184.00,207.62 185.38,211.08 188.15,211.77 198.26,211.77" fill="none" stroke="#000" stroke-width="1.05" stroke-linejoin="round"/>
<line x1="166.69" y1="187.12" x2="198.30" y2="187.12" stroke="#000" stroke-width="1.9"/>
<line x1="166.69" y1="182.42" x2="166.69" y2="191.69" stroke="#000" stroke-width="1.9"/>
<text transform="translate(130,212.70) rotate(-90)" font-family="Liberation Serif" font-size="6.8" text-anchor="middle" stroke="#000" stroke-width="0.25">0</text>
<text transform="translate(130,202.28) rotate(-90)" font-family="Liberation Serif" font-size="6.8" text-anchor="middle" stroke="#000" stroke-width="0.25">20</text>
<text transform="translate(130,191.86) rotate(-90)" font-family="Liberation Serif" font-size="6.8" text-anchor="middle" stroke="#000" stroke-width="0.25">40</text>
<text transform="translate(130,181.44) rotate(-90)" font-family="Liberation Serif" font-size="6.8" text-anchor="middle" stroke="#000" stroke-width="0.25">60</text>
<text transform="translate(130,171.02) rotate(-90)" font-family="Liberation Serif" font-size="6.8" text-anchor="middle" stroke="#000" stroke-width="0.25">80</text>
<text transform="translate(130,160.60) rotate(-90)" font-family="Liberation Serif" font-size="6.8" text-anchor="middle" stroke="#000" stroke-width="0.25">100</text>
<line x1="135.10" y1="212.2" x2="135.10" y2="216.70" stroke="#111" stroke-width="1.0"/>
<line x1="139.86" y1="212.2" x2="139.86" y2="215.40" stroke="#111" stroke-width="1.0"/>
<line x1="142.64" y1="212.2" x2="142.64" y2="215.40" stroke="#111" stroke-width="1.0"/>
<line x1="144.61" y1="212.2" x2="144.61" y2="215.40" stroke="#111" stroke-width="1.0"/>
<line x1="146.14" y1="212.2" x2="146.14" y2="215.40" stroke="#111" stroke-width="1.0"/>
<line x1="147.39" y1="212.2" x2="147.39" y2="215.40" stroke="#111" stroke-width="1.0"/>
<line x1="148.45" y1="212.2" x2="148.45" y2="215.40" stroke="#111" stroke-width="1.0"/>
<line x1="149.37" y1="212.2" x2="149.37" y2="215.40" stroke="#111" stroke-width="1.0"/>
<line x1="150.18" y1="212.2" x2="150.18" y2="215.40" stroke="#111" stroke-width="1.0"/>
<line x1="150.90" y1="212.2" x2="150.90" y2="216.70" stroke="#111" stroke-width="1.0"/>
<line x1="155.66" y1="212.2" x2="155.66" y2="215.40" stroke="#111" stroke-width="1.0"/>
<line x1="158.44" y1="212.2" x2="158.44" y2="215.40" stroke="#111" stroke-width="1.0"/>
<line x1="160.41" y1="212.2" x2="160.41" y2="215.40" stroke="#111" stroke-width="1.0"/>
<line x1="161.94" y1="212.2" x2="161.94" y2="215.40" stroke="#111" stroke-width="1.0"/>
<line x1="163.19" y1="212.2" x2="163.19" y2="215.40" stroke="#111" stroke-width="1.0"/>
<line x1="164.25" y1="212.2" x2="164.25" y2="215.40" stroke="#111" stroke-width="1.0"/>
<line x1="165.17" y1="212.2" x2="165.17" y2="215.40" stroke="#111" stroke-width="1.0"/>
<line x1="165.98" y1="212.2" x2="165.98" y2="215.40" stroke="#111" stroke-width="1.0"/>
<line x1="166.70" y1="212.2" x2="166.70" y2="216.70" stroke="#111" stroke-width="1.0"/>
<line x1="171.46" y1="212.2" x2="171.46" y2="215.40" stroke="#111" stroke-width="1.0"/>
<line x1="174.24" y1="212.2" x2="174.24" y2="215.40" stroke="#111" stroke-width="1.0"/>
<line x1="176.21" y1="212.2" x2="176.21" y2="215.40" stroke="#111" stroke-width="1.0"/>
<line x1="177.74" y1="212.2" x2="177.74" y2="215.40" stroke="#111" stroke-width="1.0"/>
<line x1="178.99" y1="212.2" x2="178.99" y2="215.40" stroke="#111" stroke-width="1.0"/>
<line x1="180.05" y1="212.2" x2="180.05" y2="215.40" stroke="#111" stroke-width="1.0"/>
<line x1="180.97" y1="212.2" x2="180.97" y2="215.40" stroke="#111" stroke-width="1.0"/>
<line x1="181.78" y1="212.2" x2="181.78" y2="215.40" stroke="#111" stroke-width="1.0"/>
<line x1="182.50" y1="212.2" x2="182.50" y2="216.70" stroke="#111" stroke-width="1.0"/>
<line x1="187.26" y1="212.2" x2="187.26" y2="215.40" stroke="#111" stroke-width="1.0"/>
<line x1="190.04" y1="212.2" x2="190.04" y2="215.40" stroke="#111" stroke-width="1.0"/>
<line x1="192.01" y1="212.2" x2="192.01" y2="215.40" stroke="#111" stroke-width="1.0"/>
<line x1="193.54" y1="212.2" x2="193.54" y2="215.40" stroke="#111" stroke-width="1.0"/>
<line x1="194.79" y1="212.2" x2="194.79" y2="215.40" stroke="#111" stroke-width="1.0"/>
<line x1="195.85" y1="212.2" x2="195.85" y2="215.40" stroke="#111" stroke-width="1.0"/>
<line x1="196.77" y1="212.2" x2="196.77" y2="215.40" stroke="#111" stroke-width="1.0"/>
<line x1="197.58" y1="212.2" x2="197.58" y2="215.40" stroke="#111" stroke-width="1.0"/>
<line x1="198.30" y1="212.2" x2="198.30" y2="216.40" stroke="#222" stroke-width="0.7"/>
<text x="129.10" y="227.8" font-family="Liberation Serif" font-size="8.3" font-weight="bold">10<tspan dy="-3.4" font-size="4.8">0</tspan></text>
<text x="146.40" y="227.8" font-family="Liberation Serif" font-size="8.3" font-weight="bold">10<tspan dy="-3.4" font-size="4.8">1</tspan></text>
<text x="160.60" y="227.8" font-family="Liberation Serif" font-size="8.3" font-weight="bold">10<tspan dy="-3.4" font-size="4.8">2</tspan></text>
<text x="175.70" y="227.8" font-family="Liberation Serif" font-size="8.3" font-weight="bold">10<tspan dy="-3.4" font-size="4.8">3</tspan></text>
<text x="191.10" y="227.8" font-family="Liberation Serif" font-size="8.3" font-weight="bold">10<tspan dy="-3.4" font-size="4.8">4</tspan></text>
<rect x="211.1" y="159.8" width="62.70" height="52.40" fill="none" stroke="#111" stroke-width="1"/>
<line x1="208.90" y1="212.20" x2="211.1" y2="212.20" stroke="#111" stroke-width="0.75"/>
<line x1="209.70" y1="209.58" x2="211.1" y2="209.58" stroke="#111" stroke-width="0.75"/>
<line x1="208.90" y1="206.96" x2="211.1" y2="206.96" stroke="#111" stroke-width="0.75"/>
<line x1="209.70" y1="204.34" x2="211.1" y2="204.34" stroke="#111" stroke-width="0.75"/>
<line x1="208.90" y1="201.72" x2="211.1" y2="201.72" stroke="#111" stroke-width="0.75"/>
<line x1="209.70" y1="199.10" x2="211.1" y2="199.10" stroke="#111" stroke-width="0.75"/>
<line x1="208.90" y1="196.48" x2="211.1" y2="196.48" stroke="#111" stroke-width="0.75"/>
<line x1="209.70" y1="193.86" x2="211.1" y2="193.86" stroke="#111" stroke-width="0.75"/>
<line x1="208.90" y1="191.24" x2="211.1" y2="191.24" stroke="#111" stroke-width="0.75"/>
<line x1="209.70" y1="188.62" x2="211.1" y2="188.62" stroke="#111" stroke-width="0.75"/>
<line x1="208.90" y1="186.00" x2="211.1" y2="186.00" stroke="#111" stroke-width="0.75"/>
<line x1="209.70" y1="183.38" x2="211.1" y2="183.38" stroke="#111" stroke-width="0.75"/>
<line x1="208.90" y1="180.76" x2="211.1" y2="180.76" stroke="#111" stroke-width="0.75"/>
<line x1="209.70" y1="178.14" x2="211.1" y2="178.14" stroke="#111" stroke-width="0.75"/>
<line x1="208.90" y1="175.52" x2="211.1" y2="175.52" stroke="#111" stroke-width="0.75"/>
<line x1="209.70" y1="172.90" x2="211.1" y2="172.90" stroke="#111" stroke-width="0.75"/>
<line x1="208.90" y1="170.28" x2="211.1" y2="170.28" stroke="#111" stroke-width="0.75"/>
<line x1="209.70" y1="167.66" x2="211.1" y2="167.66" stroke="#111" stroke-width="0.75"/>
<line x1="208.90" y1="165.04" x2="211.1" y2="165.04" stroke="#111" stroke-width="0.75"/>
<line x1="209.70" y1="162.42" x2="211.1" y2="162.42" stroke="#111" stroke-width="0.75"/>
<line x1="208.90" y1="159.80" x2="211.1" y2="159.80" stroke="#111" stroke-width="0.75"/>
<polyline points="211.12,212.05 211.12,205.54 212.23,210.38 214.31,211.08 219.85,210.66 223.31,209.69 225.38,208.31 227.46,208.31 229.54,206.92 231.62,205.54 233.00,204.85 234.38,204.57 235.77,205.54 237.57,206.92 239.23,209.69 241.31,211.08 244.08,211.49 246.85,210.38 248.23,207.62 249.62,193.77 250.72,177.15 251.69,164.69 252.66,160.26 253.77,160.26 254.74,166.08 255.85,179.92 256.95,195.15 258.34,206.23 260.00,210.38 262.77,211.49 273.85,211.77" fill="none" stroke="#000" stroke-width="1.05" stroke-linejoin="round"/>
<line x1="242.28" y1="187.12" x2="273.80" y2="187.12" stroke="#000" stroke-width="1.9"/>
<line x1="242.28" y1="182.42" x2="242.28" y2="191.69" stroke="#000" stroke-width="1.9"/>
<line x1="211.10" y1="212.2" x2="211.10" y2="216.70" stroke="#111" stroke-width="1.0"/>
<line x1="215.82" y1="212.2" x2="215.82" y2="215.40" stroke="#111" stroke-width="1.0"/>
<line x1="218.58" y1="212.2" x2="218.58" y2="215.40" stroke="#111" stroke-width="1.0"/>
<line x1="220.54" y1="212.2" x2="220.54" y2="215.40" stroke="#111" stroke-width="1.0"/>
<line x1="222.06" y1="212.2" x2="222.06" y2="215.40" stroke="#111" stroke-width="1.0"/>
<line x1="223.30" y1="212.2" x2="223.30" y2="215.40" stroke="#111" stroke-width="1.0"/>
<line x1="224.35" y1="212.2" x2="224.35" y2="215.40" stroke="#111" stroke-width="1.0"/>
<line x1="225.26" y1="212.2" x2="225.26" y2="215.40" stroke="#111" stroke-width="1.0"/>
<line x1="226.06" y1="212.2" x2="226.06" y2="215.40" stroke="#111" stroke-width="1.0"/>
<line x1="226.78" y1="212.2" x2="226.78" y2="216.70" stroke="#111" stroke-width="1.0"/>
<line x1="231.49" y1="212.2" x2="231.49" y2="215.40" stroke="#111" stroke-width="1.0"/>
<line x1="234.25" y1="212.2" x2="234.25" y2="215.40" stroke="#111" stroke-width="1.0"/>
<line x1="236.21" y1="212.2" x2="236.21" y2="215.40" stroke="#111" stroke-width="1.0"/>
<line x1="237.73" y1="212.2" x2="237.73" y2="215.40" stroke="#111" stroke-width="1.0"/>
<line x1="238.97" y1="212.2" x2="238.97" y2="215.40" stroke="#111" stroke-width="1.0"/>
<line x1="240.02" y1="212.2" x2="240.02" y2="215.40" stroke="#111" stroke-width="1.0"/>
<line x1="240.93" y1="212.2" x2="240.93" y2="215.40" stroke="#111" stroke-width="1.0"/>
<line x1="241.73" y1="212.2" x2="241.73" y2="215.40" stroke="#111" stroke-width="1.0"/>
<line x1="242.45" y1="212.2" x2="242.45" y2="216.70" stroke="#111" stroke-width="1.0"/>
<line x1="247.17" y1="212.2" x2="247.17" y2="215.40" stroke="#111" stroke-width="1.0"/>
<line x1="249.93" y1="212.2" x2="249.93" y2="215.40" stroke="#111" stroke-width="1.0"/>
<line x1="251.89" y1="212.2" x2="251.89" y2="215.40" stroke="#111" stroke-width="1.0"/>
<line x1="253.41" y1="212.2" x2="253.41" y2="215.40" stroke="#111" stroke-width="1.0"/>
<line x1="254.65" y1="212.2" x2="254.65" y2="215.40" stroke="#111" stroke-width="1.0"/>
<line x1="255.70" y1="212.2" x2="255.70" y2="215.40" stroke="#111" stroke-width="1.0"/>
<line x1="256.61" y1="212.2" x2="256.61" y2="215.40" stroke="#111" stroke-width="1.0"/>
<line x1="257.41" y1="212.2" x2="257.41" y2="215.40" stroke="#111" stroke-width="1.0"/>
<line x1="258.12" y1="212.2" x2="258.12" y2="216.70" stroke="#111" stroke-width="1.0"/>
<line x1="262.84" y1="212.2" x2="262.84" y2="215.40" stroke="#111" stroke-width="1.0"/>
<line x1="265.60" y1="212.2" x2="265.60" y2="215.40" stroke="#111" stroke-width="1.0"/>
<line x1="267.56" y1="212.2" x2="267.56" y2="215.40" stroke="#111" stroke-width="1.0"/>
<line x1="269.08" y1="212.2" x2="269.08" y2="215.40" stroke="#111" stroke-width="1.0"/>
<line x1="270.32" y1="212.2" x2="270.32" y2="215.40" stroke="#111" stroke-width="1.0"/>
<line x1="271.37" y1="212.2" x2="271.37" y2="215.40" stroke="#111" stroke-width="1.0"/>
<line x1="272.28" y1="212.2" x2="272.28" y2="215.40" stroke="#111" stroke-width="1.0"/>
<line x1="273.08" y1="212.2" x2="273.08" y2="215.40" stroke="#111" stroke-width="1.0"/>
<line x1="273.80" y1="212.2" x2="273.80" y2="216.40" stroke="#222" stroke-width="0.7"/>
<text x="207.70" y="227.8" font-family="Liberation Serif" font-size="8.3" font-weight="bold">10<tspan dy="-3.4" font-size="4.8">0</tspan></text>
<text x="224.60" y="227.8" font-family="Liberation Serif" font-size="8.3" font-weight="bold">10<tspan dy="-3.4" font-size="4.8">1</tspan></text>
<text x="239.30" y="227.8" font-family="Liberation Serif" font-size="8.3" font-weight="bold">10<tspan dy="-3.4" font-size="4.8">2</tspan></text>
<text x="253.90" y="227.8" font-family="Liberation Serif" font-size="8.3" font-weight="bold">10<tspan dy="-3.4" font-size="4.8">3</tspan></text>
<text x="269.30" y="227.8" font-family="Liberation Serif" font-size="8.3" font-weight="bold">10<tspan dy="-3.4" font-size="4.8">4</tspan></text>
<rect x="286.5" y="160.6" width="62.70" height="52.70" fill="none" stroke="#111" stroke-width="1"/>
<line x1="284.30" y1="213.30" x2="286.5" y2="213.30" stroke="#111" stroke-width="0.75"/>
<line x1="285.10" y1="210.67" x2="286.5" y2="210.67" stroke="#111" stroke-width="0.75"/>
<line x1="284.30" y1="208.03" x2="286.5" y2="208.03" stroke="#111" stroke-width="0.75"/>
<line x1="285.10" y1="205.40" x2="286.5" y2="205.40" stroke="#111" stroke-width="0.75"/>
<line x1="284.30" y1="202.76" x2="286.5" y2="202.76" stroke="#111" stroke-width="0.75"/>
<line x1="285.10" y1="200.12" x2="286.5" y2="200.12" stroke="#111" stroke-width="0.75"/>
<line x1="284.30" y1="197.49" x2="286.5" y2="197.49" stroke="#111" stroke-width="0.75"/>
<line x1="285.10" y1="194.86" x2="286.5" y2="194.86" stroke="#111" stroke-width="0.75"/>
<line x1="284.30" y1="192.22" x2="286.5" y2="192.22" stroke="#111" stroke-width="0.75"/>
<line x1="285.10" y1="189.59" x2="286.5" y2="189.59" stroke="#111" stroke-width="0.75"/>
<line x1="284.30" y1="186.95" x2="286.5" y2="186.95" stroke="#111" stroke-width="0.75"/>
<line x1="285.10" y1="184.31" x2="286.5" y2="184.31" stroke="#111" stroke-width="0.75"/>
<line x1="284.30" y1="181.68" x2="286.5" y2="181.68" stroke="#111" stroke-width="0.75"/>
<line x1="285.10" y1="179.05" x2="286.5" y2="179.05" stroke="#111" stroke-width="0.75"/>
<line x1="284.30" y1="176.41" x2="286.5" y2="176.41" stroke="#111" stroke-width="0.75"/>
<line x1="285.10" y1="173.78" x2="286.5" y2="173.78" stroke="#111" stroke-width="0.75"/>
<line x1="284.30" y1="171.14" x2="286.5" y2="171.14" stroke="#111" stroke-width="0.75"/>
<line x1="285.10" y1="168.50" x2="286.5" y2="168.50" stroke="#111" stroke-width="0.75"/>
<line x1="284.30" y1="165.87" x2="286.5" y2="165.87" stroke="#111" stroke-width="0.75"/>
<line x1="285.10" y1="163.24" x2="286.5" y2="163.24" stroke="#111" stroke-width="0.75"/>
<line x1="284.30" y1="160.60" x2="286.5" y2="160.60" stroke="#111" stroke-width="0.75"/>
<polyline points="286.74,213.15 286.74,209.00 287.85,211.77 291.31,212.05 296.85,211.49 299.62,210.11 302.38,208.31 305.15,206.23 307.23,203.74 308.62,205.12 310.00,202.08 310.97,201.38 312.08,203.46 313.46,206.92 315.54,210.38 318.31,212.46 321.77,212.88 323.85,211.77 325.23,207.62 326.62,191.00 327.58,177.15 328.69,167.46 330.08,161.23 331.18,164.69 332.15,175.77 333.26,189.62 334.51,202.08 336.31,210.38 338.38,212.46 349.18,213.15" fill="none" stroke="#000" stroke-width="1.05" stroke-linejoin="round"/>
<line x1="318.03" y1="188.23" x2="349.20" y2="188.23" stroke="#000" stroke-width="1.9"/>
<line x1="318.03" y1="184.08" x2="318.03" y2="192.38" stroke="#000" stroke-width="1.9"/>
<line x1="286.50" y1="213.3" x2="286.50" y2="217.80" stroke="#111" stroke-width="1.0"/>
<line x1="291.22" y1="213.3" x2="291.22" y2="216.50" stroke="#111" stroke-width="1.0"/>
<line x1="293.98" y1="213.3" x2="293.98" y2="216.50" stroke="#111" stroke-width="1.0"/>
<line x1="295.94" y1="213.3" x2="295.94" y2="216.50" stroke="#111" stroke-width="1.0"/>
<line x1="297.46" y1="213.3" x2="297.46" y2="216.50" stroke="#111" stroke-width="1.0"/>
<line x1="298.70" y1="213.3" x2="298.70" y2="216.50" stroke="#111" stroke-width="1.0"/>
<line x1="299.75" y1="213.3" x2="299.75" y2="216.50" stroke="#111" stroke-width="1.0"/>
<line x1="300.66" y1="213.3" x2="300.66" y2="216.50" stroke="#111" stroke-width="1.0"/>
<line x1="301.46" y1="213.3" x2="301.46" y2="216.50" stroke="#111" stroke-width="1.0"/>
<line x1="302.18" y1="213.3" x2="302.18" y2="217.80" stroke="#111" stroke-width="1.0"/>
<line x1="306.89" y1="213.3" x2="306.89" y2="216.50" stroke="#111" stroke-width="1.0"/>
<line x1="309.65" y1="213.3" x2="309.65" y2="216.50" stroke="#111" stroke-width="1.0"/>
<line x1="311.61" y1="213.3" x2="311.61" y2="216.50" stroke="#111" stroke-width="1.0"/>
<line x1="313.13" y1="213.3" x2="313.13" y2="216.50" stroke="#111" stroke-width="1.0"/>
<line x1="314.37" y1="213.3" x2="314.37" y2="216.50" stroke="#111" stroke-width="1.0"/>
<line x1="315.42" y1="213.3" x2="315.42" y2="216.50" stroke="#111" stroke-width="1.0"/>
<line x1="316.33" y1="213.3" x2="316.33" y2="216.50" stroke="#111" stroke-width="1.0"/>
<line x1="317.13" y1="213.3" x2="317.13" y2="216.50" stroke="#111" stroke-width="1.0"/>
<line x1="317.85" y1="213.3" x2="317.85" y2="217.80" stroke="#111" stroke-width="1.0"/>
<line x1="322.57" y1="213.3" x2="322.57" y2="216.50" stroke="#111" stroke-width="1.0"/>
<line x1="325.33" y1="213.3" x2="325.33" y2="216.50" stroke="#111" stroke-width="1.0"/>
<line x1="327.29" y1="213.3" x2="327.29" y2="216.50" stroke="#111" stroke-width="1.0"/>
<line x1="328.81" y1="213.3" x2="328.81" y2="216.50" stroke="#111" stroke-width="1.0"/>
<line x1="330.05" y1="213.3" x2="330.05" y2="216.50" stroke="#111" stroke-width="1.0"/>
<line x1="331.10" y1="213.3" x2="331.10" y2="216.50" stroke="#111" stroke-width="1.0"/>
<line x1="332.01" y1="213.3" x2="332.01" y2="216.50" stroke="#111" stroke-width="1.0"/>
<line x1="332.81" y1="213.3" x2="332.81" y2="216.50" stroke="#111" stroke-width="1.0"/>
<line x1="333.52" y1="213.3" x2="333.52" y2="217.80" stroke="#111" stroke-width="1.0"/>
<line x1="338.24" y1="213.3" x2="338.24" y2="216.50" stroke="#111" stroke-width="1.0"/>
<line x1="341.00" y1="213.3" x2="341.00" y2="216.50" stroke="#111" stroke-width="1.0"/>
<line x1="342.96" y1="213.3" x2="342.96" y2="216.50" stroke="#111" stroke-width="1.0"/>
<line x1="344.48" y1="213.3" x2="344.48" y2="216.50" stroke="#111" stroke-width="1.0"/>
<line x1="345.72" y1="213.3" x2="345.72" y2="216.50" stroke="#111" stroke-width="1.0"/>
<line x1="346.77" y1="213.3" x2="346.77" y2="216.50" stroke="#111" stroke-width="1.0"/>
<line x1="347.68" y1="213.3" x2="347.68" y2="216.50" stroke="#111" stroke-width="1.0"/>
<line x1="348.48" y1="213.3" x2="348.48" y2="216.50" stroke="#111" stroke-width="1.0"/>
<line x1="349.20" y1="213.3" x2="349.20" y2="217.50" stroke="#222" stroke-width="0.7"/>
<text x="283.70" y="227.8" font-family="Liberation Serif" font-size="8.3" font-weight="bold">10<tspan dy="-3.4" font-size="4.8">0</tspan></text>
<text x="300.60" y="227.8" font-family="Liberation Serif" font-size="8.3" font-weight="bold">10<tspan dy="-3.4" font-size="4.8">1</tspan></text>
<text x="315.30" y="227.8" font-family="Liberation Serif" font-size="8.3" font-weight="bold">10<tspan dy="-3.4" font-size="4.8">2</tspan></text>
<text x="329.90" y="227.8" font-family="Liberation Serif" font-size="8.3" font-weight="bold">10<tspan dy="-3.4" font-size="4.8">3</tspan></text>
<text x="345.30" y="227.8" font-family="Liberation Serif" font-size="8.3" font-weight="bold">10<tspan dy="-3.4" font-size="4.8">4</tspan></text>
<rect x="363.8" y="159.8" width="62.80" height="52.80" fill="none" stroke="#111" stroke-width="1"/>
<line x1="361.60" y1="212.60" x2="363.8" y2="212.60" stroke="#111" stroke-width="0.75"/>
<line x1="362.40" y1="209.96" x2="363.8" y2="209.96" stroke="#111" stroke-width="0.75"/>
<line x1="361.60" y1="207.32" x2="363.8" y2="207.32" stroke="#111" stroke-width="0.75"/>
<line x1="362.40" y1="204.68" x2="363.8" y2="204.68" stroke="#111" stroke-width="0.75"/>
<line x1="361.60" y1="202.04" x2="363.8" y2="202.04" stroke="#111" stroke-width="0.75"/>
<line x1="362.40" y1="199.40" x2="363.8" y2="199.40" stroke="#111" stroke-width="0.75"/>
<line x1="361.60" y1="196.76" x2="363.8" y2="196.76" stroke="#111" stroke-width="0.75"/>
<line x1="362.40" y1="194.12" x2="363.8" y2="194.12" stroke="#111" stroke-width="0.75"/>
<line x1="361.60" y1="191.48" x2="363.8" y2="191.48" stroke="#111" stroke-width="0.75"/>
<line x1="362.40" y1="188.84" x2="363.8" y2="188.84" stroke="#111" stroke-width="0.75"/>
<line x1="361.60" y1="186.20" x2="363.8" y2="186.20" stroke="#111" stroke-width="0.75"/>
<line x1="362.40" y1="183.56" x2="363.8" y2="183.56" stroke="#111" stroke-width="0.75"/>
<line x1="361.60" y1="180.92" x2="363.8" y2="180.92" stroke="#111" stroke-width="0.75"/>
<line x1="362.40" y1="178.28" x2="363.8" y2="178.28" stroke="#111" stroke-width="0.75"/>
<line x1="361.60" y1="175.64" x2="363.8" y2="175.64" stroke="#111" stroke-width="0.75"/>
<line x1="362.40" y1="173.00" x2="363.8" y2="173.00" stroke="#111" stroke-width="0.75"/>
<line x1="361.60" y1="170.36" x2="363.8" y2="170.36" stroke="#111" stroke-width="0.75"/>
<line x1="362.40" y1="167.72" x2="363.8" y2="167.72" stroke="#111" stroke-width="0.75"/>
<line x1="361.60" y1="165.08" x2="363.8" y2="165.08" stroke="#111" stroke-width="0.75"/>
<line x1="362.40" y1="162.44" x2="363.8" y2="162.44" stroke="#111" stroke-width="0.75"/>
<line x1="361.60" y1="159.80" x2="363.8" y2="159.80" stroke="#111" stroke-width="0.75"/>
<polyline points="364.26,210.38 366.62,209.00 369.38,209.69 372.15,207.62 374.92,206.23 377.69,204.15 379.77,200.69 381.15,199.31 382.54,195.85 384.20,191.69 386.00,186.85 387.38,183.38 388.35,180.62 389.18,179.92 389.74,182.69 390.57,179.92 391.54,188.23 392.51,199.31 393.89,208.31 395.69,211.08 398.46,212.05 400.54,211.08 402.62,208.31 404.69,203.46 406.77,201.11 408.15,202.77 409.95,207.62 411.62,211.08 414.38,212.18 426.57,212.46" fill="none" stroke="#000" stroke-width="1.05" stroke-linejoin="round"/>
<line x1="395.00" y1="187.12" x2="426.60" y2="187.12" stroke="#000" stroke-width="1.9"/>
<line x1="395.00" y1="182.42" x2="395.00" y2="191.69" stroke="#000" stroke-width="1.9"/>
<line x1="363.80" y1="212.6" x2="363.80" y2="217.10" stroke="#111" stroke-width="1.0"/>
<line x1="368.53" y1="212.6" x2="368.53" y2="215.80" stroke="#111" stroke-width="1.0"/>
<line x1="371.29" y1="212.6" x2="371.29" y2="215.80" stroke="#111" stroke-width="1.0"/>
<line x1="373.25" y1="212.6" x2="373.25" y2="215.80" stroke="#111" stroke-width="1.0"/>
<line x1="374.77" y1="212.6" x2="374.77" y2="215.80" stroke="#111" stroke-width="1.0"/>
<line x1="376.02" y1="212.6" x2="376.02" y2="215.80" stroke="#111" stroke-width="1.0"/>
<line x1="377.07" y1="212.6" x2="377.07" y2="215.80" stroke="#111" stroke-width="1.0"/>
<line x1="377.98" y1="212.6" x2="377.98" y2="215.80" stroke="#111" stroke-width="1.0"/>
<line x1="378.78" y1="212.6" x2="378.78" y2="215.80" stroke="#111" stroke-width="1.0"/>
<line x1="379.50" y1="212.6" x2="379.50" y2="217.10" stroke="#111" stroke-width="1.0"/>
<line x1="384.23" y1="212.6" x2="384.23" y2="215.80" stroke="#111" stroke-width="1.0"/>
<line x1="386.99" y1="212.6" x2="386.99" y2="215.80" stroke="#111" stroke-width="1.0"/>
<line x1="388.95" y1="212.6" x2="388.95" y2="215.80" stroke="#111" stroke-width="1.0"/>
<line x1="390.47" y1="212.6" x2="390.47" y2="215.80" stroke="#111" stroke-width="1.0"/>
<line x1="391.72" y1="212.6" x2="391.72" y2="215.80" stroke="#111" stroke-width="1.0"/>
<line x1="392.77" y1="212.6" x2="392.77" y2="215.80" stroke="#111" stroke-width="1.0"/>
<line x1="393.68" y1="212.6" x2="393.68" y2="215.80" stroke="#111" stroke-width="1.0"/>
<line x1="394.48" y1="212.6" x2="394.48" y2="215.80" stroke="#111" stroke-width="1.0"/>
<line x1="395.20" y1="212.6" x2="395.20" y2="217.10" stroke="#111" stroke-width="1.0"/>
<line x1="399.93" y1="212.6" x2="399.93" y2="215.80" stroke="#111" stroke-width="1.0"/>
<line x1="402.69" y1="212.6" x2="402.69" y2="215.80" stroke="#111" stroke-width="1.0"/>
<line x1="404.65" y1="212.6" x2="404.65" y2="215.80" stroke="#111" stroke-width="1.0"/>
<line x1="406.17" y1="212.6" x2="406.17" y2="215.80" stroke="#111" stroke-width="1.0"/>
<line x1="407.42" y1="212.6" x2="407.42" y2="215.80" stroke="#111" stroke-width="1.0"/>
<line x1="408.47" y1="212.6" x2="408.47" y2="215.80" stroke="#111" stroke-width="1.0"/>
<line x1="409.38" y1="212.6" x2="409.38" y2="215.80" stroke="#111" stroke-width="1.0"/>
<line x1="410.18" y1="212.6" x2="410.18" y2="215.80" stroke="#111" stroke-width="1.0"/>
<line x1="410.90" y1="212.6" x2="410.90" y2="217.10" stroke="#111" stroke-width="1.0"/>
<line x1="415.63" y1="212.6" x2="415.63" y2="215.80" stroke="#111" stroke-width="1.0"/>
<line x1="418.39" y1="212.6" x2="418.39" y2="215.80" stroke="#111" stroke-width="1.0"/>
<line x1="420.35" y1="212.6" x2="420.35" y2="215.80" stroke="#111" stroke-width="1.0"/>
<line x1="421.87" y1="212.6" x2="421.87" y2="215.80" stroke="#111" stroke-width="1.0"/>
<line x1="423.12" y1="212.6" x2="423.12" y2="215.80" stroke="#111" stroke-width="1.0"/>
<line x1="424.17" y1="212.6" x2="424.17" y2="215.80" stroke="#111" stroke-width="1.0"/>
<line x1="425.08" y1="212.6" x2="425.08" y2="215.80" stroke="#111" stroke-width="1.0"/>
<line x1="425.88" y1="212.6" x2="425.88" y2="215.80" stroke="#111" stroke-width="1.0"/>
<line x1="426.60" y1="212.6" x2="426.60" y2="216.80" stroke="#222" stroke-width="0.7"/>
<text x="357.90" y="227.8" font-family="Liberation Serif" font-size="8.3" font-weight="bold">10<tspan dy="-3.4" font-size="4.8">0</tspan></text>
<text x="375.10" y="227.8" font-family="Liberation Serif" font-size="8.3" font-weight="bold">10<tspan dy="-3.4" font-size="4.8">1</tspan></text>
<text x="388.60" y="227.8" font-family="Liberation Serif" font-size="8.3" font-weight="bold">10<tspan dy="-3.4" font-size="4.8">2</tspan></text>
<text x="404.00" y="227.8" font-family="Liberation Serif" font-size="8.3" font-weight="bold">10<tspan dy="-3.4" font-size="4.8">3</tspan></text>
<text x="419.40" y="227.8" font-family="Liberation Serif" font-size="8.3" font-weight="bold">10<tspan dy="-3.4" font-size="4.8">4</tspan></text>
<rect x="439.8" y="159.8" width="62.80" height="52.70" fill="none" stroke="#111" stroke-width="1"/>
<line x1="437.60" y1="212.50" x2="439.8" y2="212.50" stroke="#111" stroke-width="0.75"/>
<line x1="438.40" y1="209.87" x2="439.8" y2="209.87" stroke="#111" stroke-width="0.75"/>
<line x1="437.60" y1="207.23" x2="439.8" y2="207.23" stroke="#111" stroke-width="0.75"/>
<line x1="438.40" y1="204.59" x2="439.8" y2="204.59" stroke="#111" stroke-width="0.75"/>
<line x1="437.60" y1="201.96" x2="439.8" y2="201.96" stroke="#111" stroke-width="0.75"/>
<line x1="438.40" y1="199.32" x2="439.8" y2="199.32" stroke="#111" stroke-width="0.75"/>
<line x1="437.60" y1="196.69" x2="439.8" y2="196.69" stroke="#111" stroke-width="0.75"/>
<line x1="438.40" y1="194.06" x2="439.8" y2="194.06" stroke="#111" stroke-width="0.75"/>
<line x1="437.60" y1="191.42" x2="439.8" y2="191.42" stroke="#111" stroke-width="0.75"/>
<line x1="438.40" y1="188.78" x2="439.8" y2="188.78" stroke="#111" stroke-width="0.75"/>
<line x1="437.60" y1="186.15" x2="439.8" y2="186.15" stroke="#111" stroke-width="0.75"/>
<line x1="438.40" y1="183.52" x2="439.8" y2="183.52" stroke="#111" stroke-width="0.75"/>
<line x1="437.60" y1="180.88" x2="439.8" y2="180.88" stroke="#111" stroke-width="0.75"/>
<line x1="438.40" y1="178.25" x2="439.8" y2="178.25" stroke="#111" stroke-width="0.75"/>
<line x1="437.60" y1="175.61" x2="439.8" y2="175.61" stroke="#111" stroke-width="0.75"/>
<line x1="438.40" y1="172.98" x2="439.8" y2="172.98" stroke="#111" stroke-width="0.75"/>
<line x1="437.60" y1="170.34" x2="439.8" y2="170.34" stroke="#111" stroke-width="0.75"/>
<line x1="438.40" y1="167.71" x2="439.8" y2="167.71" stroke="#111" stroke-width="0.75"/>
<line x1="437.60" y1="165.07" x2="439.8" y2="165.07" stroke="#111" stroke-width="0.75"/>
<line x1="438.40" y1="162.44" x2="439.8" y2="162.44" stroke="#111" stroke-width="0.75"/>
<line x1="437.60" y1="159.80" x2="439.8" y2="159.80" stroke="#111" stroke-width="0.75"/>
<polyline points="440.26,208.31 441.92,209.00 444.00,208.31 446.08,207.34 447.18,206.23 448.85,207.62 450.23,204.85 451.62,202.77 453.69,202.77 455.08,199.31 457.15,195.15 459.23,189.62 460.62,184.77 462.00,179.23 463.38,177.15 464.35,177.85 465.18,182.00 466.15,189.62 467.12,199.31 468.51,207.62 470.31,210.66 473.08,211.08 476.54,211.08 482.08,211.49 487.62,212.05 502.57,212.18" fill="none" stroke="#000" stroke-width="1.05" stroke-linejoin="round"/>
<line x1="471.28" y1="187.12" x2="502.60" y2="187.12" stroke="#000" stroke-width="1.9"/>
<line x1="471.28" y1="182.42" x2="471.28" y2="191.69" stroke="#000" stroke-width="1.9"/>
<line x1="439.80" y1="212.5" x2="439.80" y2="217.00" stroke="#111" stroke-width="1.0"/>
<line x1="444.53" y1="212.5" x2="444.53" y2="215.70" stroke="#111" stroke-width="1.0"/>
<line x1="447.29" y1="212.5" x2="447.29" y2="215.70" stroke="#111" stroke-width="1.0"/>
<line x1="449.25" y1="212.5" x2="449.25" y2="215.70" stroke="#111" stroke-width="1.0"/>
<line x1="450.77" y1="212.5" x2="450.77" y2="215.70" stroke="#111" stroke-width="1.0"/>
<line x1="452.02" y1="212.5" x2="452.02" y2="215.70" stroke="#111" stroke-width="1.0"/>
<line x1="453.07" y1="212.5" x2="453.07" y2="215.70" stroke="#111" stroke-width="1.0"/>
<line x1="453.98" y1="212.5" x2="453.98" y2="215.70" stroke="#111" stroke-width="1.0"/>
<line x1="454.78" y1="212.5" x2="454.78" y2="215.70" stroke="#111" stroke-width="1.0"/>
<line x1="455.50" y1="212.5" x2="455.50" y2="217.00" stroke="#111" stroke-width="1.0"/>
<line x1="460.23" y1="212.5" x2="460.23" y2="215.70" stroke="#111" stroke-width="1.0"/>
<line x1="462.99" y1="212.5" x2="462.99" y2="215.70" stroke="#111" stroke-width="1.0"/>
<line x1="464.95" y1="212.5" x2="464.95" y2="215.70" stroke="#111" stroke-width="1.0"/>
<line x1="466.47" y1="212.5" x2="466.47" y2="215.70" stroke="#111" stroke-width="1.0"/>
<line x1="467.72" y1="212.5" x2="467.72" y2="215.70" stroke="#111" stroke-width="1.0"/>
<line x1="468.77" y1="212.5" x2="468.77" y2="215.70" stroke="#111" stroke-width="1.0"/>
<line x1="469.68" y1="212.5" x2="469.68" y2="215.70" stroke="#111" stroke-width="1.0"/>
<line x1="470.48" y1="212.5" x2="470.48" y2="215.70" stroke="#111" stroke-width="1.0"/>
<line x1="471.20" y1="212.5" x2="471.20" y2="217.00" stroke="#111" stroke-width="1.0"/>
<line x1="475.93" y1="212.5" x2="475.93" y2="215.70" stroke="#111" stroke-width="1.0"/>
<line x1="478.69" y1="212.5" x2="478.69" y2="215.70" stroke="#111" stroke-width="1.0"/>
<line x1="480.65" y1="212.5" x2="480.65" y2="215.70" stroke="#111" stroke-width="1.0"/>
<line x1="482.17" y1="212.5" x2="482.17" y2="215.70" stroke="#111" stroke-width="1.0"/>
<line x1="483.42" y1="212.5" x2="483.42" y2="215.70" stroke="#111" stroke-width="1.0"/>
<line x1="484.47" y1="212.5" x2="484.47" y2="215.70" stroke="#111" stroke-width="1.0"/>
<line x1="485.38" y1="212.5" x2="485.38" y2="215.70" stroke="#111" stroke-width="1.0"/>
<line x1="486.18" y1="212.5" x2="486.18" y2="215.70" stroke="#111" stroke-width="1.0"/>
<line x1="486.90" y1="212.5" x2="486.90" y2="217.00" stroke="#111" stroke-width="1.0"/>
<line x1="491.63" y1="212.5" x2="491.63" y2="215.70" stroke="#111" stroke-width="1.0"/>
<line x1="494.39" y1="212.5" x2="494.39" y2="215.70" stroke="#111" stroke-width="1.0"/>
<line x1="496.35" y1="212.5" x2="496.35" y2="215.70" stroke="#111" stroke-width="1.0"/>
<line x1="497.87" y1="212.5" x2="497.87" y2="215.70" stroke="#111" stroke-width="1.0"/>
<line x1="499.12" y1="212.5" x2="499.12" y2="215.70" stroke="#111" stroke-width="1.0"/>
<line x1="500.17" y1="212.5" x2="500.17" y2="215.70" stroke="#111" stroke-width="1.0"/>
<line x1="501.08" y1="212.5" x2="501.08" y2="215.70" stroke="#111" stroke-width="1.0"/>
<line x1="501.88" y1="212.5" x2="501.88" y2="215.70" stroke="#111" stroke-width="1.0"/>
<line x1="502.60" y1="212.5" x2="502.60" y2="216.70" stroke="#222" stroke-width="0.7"/>
<text x="436.00" y="227.8" font-family="Liberation Serif" font-size="8.3" font-weight="bold">10<tspan dy="-3.4" font-size="4.8">0</tspan></text>
<text x="453.40" y="227.8" font-family="Liberation Serif" font-size="8.3" font-weight="bold">10<tspan dy="-3.4" font-size="4.8">1</tspan></text>
<text x="467.70" y="227.8" font-family="Liberation Serif" font-size="8.3" font-weight="bold">10<tspan dy="-3.4" font-size="4.8">2</tspan></text>
<text x="483.10" y="227.8" font-family="Liberation Serif" font-size="8.3" font-weight="bold">10<tspan dy="-3.4" font-size="4.8">3</tspan></text>
<text x="498.00" y="227.8" font-family="Liberation Serif" font-size="8.3" font-weight="bold">10<tspan dy="-3.4" font-size="4.8">4</tspan></text>
<line x1="121.8" y1="268.25" x2="121.8" y2="460.3" stroke="#555" stroke-width="1"/>
<line x1="117.5" y1="460.3" x2="511.80" y2="460.3" stroke="#555" stroke-width="1"/>
<line x1="117.5" y1="460.30" x2="121.8" y2="460.30" stroke="#555" stroke-width="1"/>
<text x="111" y="464.80" font-family="Liberation Serif" font-size="13.6" text-anchor="end" stroke="#000" stroke-width="0.15">0</text>
<line x1="117.5" y1="421.89" x2="121.8" y2="421.89" stroke="#555" stroke-width="1"/>
<text x="111" y="426.39" font-family="Liberation Serif" font-size="13.6" text-anchor="end" stroke="#000" stroke-width="0.15">4000</text>
<line x1="117.5" y1="383.48" x2="121.8" y2="383.48" stroke="#555" stroke-width="1"/>
<text x="111" y="387.98" font-family="Liberation Serif" font-size="13.6" text-anchor="end" stroke="#000" stroke-width="0.15">8000</text>
<line x1="117.5" y1="345.07" x2="121.8" y2="345.07" stroke="#555" stroke-width="1"/>
<text x="111" y="349.57" font-family="Liberation Serif" font-size="13.6" text-anchor="end" stroke="#000" stroke-width="0.15">12000</text>
<line x1="117.5" y1="306.66" x2="121.8" y2="306.66" stroke="#555" stroke-width="1"/>
<text x="111" y="311.16" font-family="Liberation Serif" font-size="13.6" text-anchor="end" stroke="#000" stroke-width="0.15">16000</text>
<line x1="117.5" y1="268.25" x2="121.8" y2="268.25" stroke="#555" stroke-width="1"/>
<text x="111" y="272.75" font-family="Liberation Serif" font-size="13.6" text-anchor="end" stroke="#000" stroke-width="0.15">20000</text>
<line x1="121.80" y1="460.3" x2="121.80" y2="464.10" stroke="#555" stroke-width="1"/>
<text x="121.80" y="484.5" font-family="Liberation Serif" font-size="13.6" text-anchor="middle" stroke="#000" stroke-width="0.15">0</text>
<line x1="170.55" y1="460.3" x2="170.55" y2="464.10" stroke="#555" stroke-width="1"/>
<text x="170.55" y="484.5" font-family="Liberation Serif" font-size="13.6" text-anchor="middle" stroke="#000" stroke-width="0.15">5</text>
<line x1="219.30" y1="460.3" x2="219.30" y2="464.10" stroke="#555" stroke-width="1"/>
<text x="219.30" y="484.5" font-family="Liberation Serif" font-size="13.6" text-anchor="middle" stroke="#000" stroke-width="0.15">10</text>
<line x1="268.05" y1="460.3" x2="268.05" y2="464.10" stroke="#555" stroke-width="1"/>
<text x="268.05" y="484.5" font-family="Liberation Serif" font-size="13.6" text-anchor="middle" stroke="#000" stroke-width="0.15">15</text>
<line x1="316.80" y1="460.3" x2="316.80" y2="464.10" stroke="#555" stroke-width="1"/>
<text x="316.80" y="484.5" font-family="Liberation Serif" font-size="13.6" text-anchor="middle" stroke="#000" stroke-width="0.15">20</text>
<line x1="365.55" y1="460.3" x2="365.55" y2="464.10" stroke="#555" stroke-width="1"/>
<text x="365.55" y="484.5" font-family="Liberation Serif" font-size="13.6" text-anchor="middle" stroke="#000" stroke-width="0.15">25</text>
<line x1="414.30" y1="460.3" x2="414.30" y2="464.10" stroke="#555" stroke-width="1"/>
<text x="414.30" y="484.5" font-family="Liberation Serif" font-size="13.6" text-anchor="middle" stroke="#000" stroke-width="0.15">30</text>
<line x1="463.05" y1="460.3" x2="463.05" y2="464.10" stroke="#555" stroke-width="1"/>
<text x="463.05" y="484.5" font-family="Liberation Serif" font-size="13.6" text-anchor="middle" stroke="#000" stroke-width="0.15">35</text>
<line x1="511.80" y1="460.3" x2="511.80" y2="464.10" stroke="#555" stroke-width="1"/>
<text x="511.80" y="484.5" font-family="Liberation Serif" font-size="13.6" text-anchor="middle" stroke="#000" stroke-width="0.15">40</text>
<text x="295.75" y="498.5" font-family="Liberation Serif" font-size="13" text-anchor="middle">time (wk)</text>
<text transform="translate(56.3,362.5) rotate(-90)" font-family="Liberation Serif" font-size="13.3" text-anchor="middle">systemic PMN counts (μl<tspan dy="-4" font-size="8">-1</tspan><tspan dy="4">)</tspan></text>
<path d="M121.2,492 V507.4" stroke="#000" stroke-width="1.8"/>
<path d="M121.2,485.2 L117,493 L125.4,493 Z" fill="#000"/>
<text x="123.1" y="520.6" font-family="Liberation Serif" font-size="10" text-anchor="middle">BMT</text>
<path d="M147.9,339.1 H154.1 M151,339.1 V382.1 M147.9,382.1 H154.1" fill="none" stroke="#000" stroke-width="1.5"/>
<circle cx="150.5" cy="329.6" r="1.5" fill="#000"/>
<path d="M162.5,305.6 H168.7 M165.6,305.6 V363.2 M162.5,363.2 H168.7" fill="none" stroke="#000" stroke-width="1.5"/>
<circle cx="165.1" cy="295.8" r="1.5" fill="#000"/>
<path d="M191.3,295 H197.5 M194.4,295 V351.5 M191.3,351.5 H197.5" fill="none" stroke="#000" stroke-width="1.5"/>
<circle cx="193.9" cy="285.3" r="1.5" fill="#000"/>
<path d="M255.29999999999998,300.8 H261.5 M258.4,300.8 V368.3 M255.29999999999998,368.3 H261.5" fill="none" stroke="#000" stroke-width="1.5"/>
<circle cx="257.9" cy="292.5" r="1.5" fill="#000"/>
<path d="M352.09999999999997,344.6 H358.3 M355.2,344.6 V384.7 M352.09999999999997,384.7 H358.3" fill="none" stroke="#000" stroke-width="1.5"/>
<circle cx="354.7" cy="337.3" r="1.5" fill="#000"/>
<path d="M469.7,335 H475.90000000000003 M472.8,335 V374.6 M469.7,374.6 H475.90000000000003" fill="none" stroke="#000" stroke-width="1.5"/>
<circle cx="472.3" cy="326.9" r="1.5" fill="#000"/>
<polyline points="151,360.5 165.6,334 194.4,322.3 258.4,333.5 355.2,363.7 472.8,355" fill="none" stroke="#000" stroke-width="1.6"/>
<circle cx="151" cy="360.5" r="2.6" fill="#000"/>
<circle cx="165.6" cy="334" r="2.6" fill="#000"/>
<circle cx="194.4" cy="322.3" r="2.6" fill="#000"/>
<circle cx="258.4" cy="333.5" r="2.6" fill="#000"/>
<circle cx="355.2" cy="363.7" r="2.6" fill="#000"/>
<circle cx="472.8" cy="355" r="2.6" fill="#000"/>
<path d="M147.9,420.2 H154.1 M151,420.2 V423 M147.9,423 H154.1" fill="none" stroke="#000" stroke-width="1.5"/>
<path d="M147.9,428.6 H154.1 M151,428.6 V448.8 M147.9,448.8 H154.1" fill="none" stroke="#000" stroke-width="1.5"/>
<path d="M162.5,390.6 H168.7 M165.6,390.6 V405.8 M162.5,405.8 H168.7" fill="none" stroke="#000" stroke-width="1.5"/>
<path d="M162.5,418.6 H168.7 M165.6,418.6 V447.4 M162.5,447.4 H168.7" fill="none" stroke="#000" stroke-width="1.5"/>
<path d="M162.5,428.6 H168.7 M165.6,428.6 V431 M162.5,431 H168.7" fill="none" stroke="#000" stroke-width="1.5"/>
<path d="M191.3,415.1 H197.5 M194.4,415.1 V421.5 M191.3,421.5 H197.5" fill="none" stroke="#000" stroke-width="1.5"/>
<path d="M191.3,419.5 H197.5 M194.4,419.5 V427.8 M191.3,427.8 H197.5" fill="none" stroke="#000" stroke-width="1.5"/>
<path d="M191.3,426 H197.5 M194.4,426 V436.4 M191.3,436.4 H197.5" fill="none" stroke="#000" stroke-width="1.5"/>
<path d="M255.29999999999998,426.9 H261.5 M258.4,426.9 V446.4 M255.29999999999998,446.4 H261.5" fill="none" stroke="#000" stroke-width="1.5"/>
<path d="M255.29999999999998,432.5 H261.5 M258.4,432.5 V436 M255.29999999999998,436 H261.5" fill="none" stroke="#000" stroke-width="1.5"/>
<path d="M352.09999999999997,423.5 H358.3 M355.2,423.5 V430.8 M352.09999999999997,430.8 H358.3" fill="none" stroke="#000" stroke-width="1.5"/>
<path d="M352.09999999999997,434.6 H358.3 M355.2,434.6 V441.9 M352.09999999999997,441.9 H358.3" fill="none" stroke="#000" stroke-width="1.5"/>
<polyline points="151,420.2 165.6,398.0 194.4,417.0 258.4,436.5 355.2,438.8 472.8,434.8" fill="none" stroke="#000" stroke-width="1.3"/>
<polyline points="151,439.4 165.6,434.4 194.4,429.7 258.4,437.0 355.2,426.9 472.8,443.1" fill="none" stroke="#000" stroke-width="1.3"/>
<polyline points="151,433.3 165.6,423.9 194.4,435.4 258.4,436.0 355.2,439.2 472.8,446.3" fill="none" stroke="#000" stroke-width="1.3"/>
<polyline points="151,433.3 165.6,430.0 194.4,428.0 258.4,440.0 355.2,438.5 472.8,440.5" fill="none" stroke="#000" stroke-width="1.3"/>
<path d="M151,436.59999999999997 L153.8,439.4 L151,442.2 L148.2,439.4 Z" fill="#fff" stroke="#000" stroke-width="1.1"/>
<path d="M165.6,431.59999999999997 L168.4,434.4 L165.6,437.2 L162.79999999999998,434.4 Z" fill="#fff" stroke="#000" stroke-width="1.1"/>
<path d="M194.4,426.9 L197.20000000000002,429.7 L194.4,432.5 L191.6,429.7 Z" fill="#fff" stroke="#000" stroke-width="1.1"/>
<path d="M258.4,434.2 L261.2,437.0 L258.4,439.8 L255.59999999999997,437.0 Z" fill="#fff" stroke="#000" stroke-width="1.1"/>
<path d="M355.2,424.09999999999997 L358.0,426.9 L355.2,429.7 L352.4,426.9 Z" fill="#fff" stroke="#000" stroke-width="1.1"/>
<path d="M472.8,440.3 L475.6,443.1 L472.8,445.90000000000003 L470.0,443.1 Z" fill="#fff" stroke="#000" stroke-width="1.1"/>
<path d="M151,430.5 L153.8,435.3 L148.2,435.3 Z" fill="#fff" stroke="#000" stroke-width="1.1"/>
<path d="M165.6,421.09999999999997 L168.4,425.9 L162.79999999999998,425.9 Z" fill="#fff" stroke="#000" stroke-width="1.1"/>
<path d="M194.4,432.59999999999997 L197.20000000000002,437.4 L191.6,437.4 Z" fill="#fff" stroke="#000" stroke-width="1.1"/>
<path d="M258.4,433.2 L261.2,438.0 L255.59999999999997,438.0 Z" fill="#fff" stroke="#000" stroke-width="1.1"/>
<path d="M355.2,436.4 L358.0,441.2 L352.4,441.2 Z" fill="#fff" stroke="#000" stroke-width="1.1"/>
<path d="M472.8,443.5 L475.6,448.3 L470.0,448.3 Z" fill="#fff" stroke="#000" stroke-width="1.1"/>
<circle cx="151" cy="433.3" r="2.4" fill="#fff" stroke="#000" stroke-width="1.1"/>
<circle cx="165.6" cy="430.0" r="2.4" fill="#fff" stroke="#000" stroke-width="1.1"/>
<circle cx="194.4" cy="428.0" r="2.4" fill="#fff" stroke="#000" stroke-width="1.1"/>
<circle cx="258.4" cy="440.0" r="2.4" fill="#fff" stroke="#000" stroke-width="1.1"/>
<circle cx="355.2" cy="438.5" r="2.4" fill="#fff" stroke="#000" stroke-width="1.1"/>
<circle cx="472.8" cy="440.5" r="2.4" fill="#fff" stroke="#000" stroke-width="1.1"/>
<rect x="148.7" y="417.9" width="4.6" height="4.6" fill="#fff" stroke="#000" stroke-width="1.1"/>
<rect x="163.29999999999998" y="395.7" width="4.6" height="4.6" fill="#fff" stroke="#000" stroke-width="1.1"/>
<rect x="192.1" y="414.7" width="4.6" height="4.6" fill="#fff" stroke="#000" stroke-width="1.1"/>
<rect x="256.09999999999997" y="434.2" width="4.6" height="4.6" fill="#fff" stroke="#000" stroke-width="1.1"/>
<rect x="352.9" y="436.5" width="4.6" height="4.6" fill="#fff" stroke="#000" stroke-width="1.1"/>
<rect x="470.5" y="432.5" width="4.6" height="4.6" fill="#fff" stroke="#000" stroke-width="1.1"/>
<line x1="377.8" y1="261.1" x2="400.6" y2="261.1" stroke="#000" stroke-width="1.3"/>
<rect x="386.2" y="258.8" width="4.6" height="4.6" fill="#fff" stroke="#000" stroke-width="1.1"/>
<text x="404.2" y="264.70" font-family="Liberation Serif" font-size="10.8" letter-spacing="0.05" stroke="#000" stroke-width="0.25">WT</text>
<line x1="377.8" y1="274.8" x2="400.6" y2="274.8" stroke="#000" stroke-width="1.3"/>
<path d="M388.5,272.0 L391.3,274.8 L388.5,277.6 L385.7,274.8 Z" fill="#fff" stroke="#000" stroke-width="1.1"/>
<text x="404.2" y="278.40" font-family="Liberation Serif" font-size="10.8" letter-spacing="0.05" stroke="#000" stroke-width="0.25">WT/CD18-/- (10:1)</text>
<line x1="377.8" y1="289.9" x2="400.6" y2="289.9" stroke="#000" stroke-width="1.3"/>
<path d="M388.5,285.9 L391.3,290.7 L385.7,290.7 Z" fill="#fff" stroke="#000" stroke-width="1.1"/>
<text x="404.2" y="293.50" font-family="Liberation Serif" font-size="10.8" letter-spacing="0.05" stroke="#000" stroke-width="0.25">WT/CD18-/- (1:1)</text>
<line x1="377.8" y1="303.0" x2="400.6" y2="303.0" stroke="#000" stroke-width="1.3"/>
<circle cx="388.5" cy="303.0" r="2.4" fill="#fff" stroke="#000" stroke-width="1.1"/>
<text x="404.2" y="306.60" font-family="Liberation Serif" font-size="10.8" letter-spacing="0.05" stroke="#000" stroke-width="0.25">WT/CD18-/- (1:10)</text>
<line x1="377.8" y1="317.4" x2="400.6" y2="317.4" stroke="#000" stroke-width="1.3"/>
<circle cx="388.5" cy="317.4" r="2.7" fill="#000"/>
<text x="404.2" y="321.00" font-family="Liberation Serif" font-size="10.8" letter-spacing="0.05" stroke="#000" stroke-width="0.25">CD18-/-</text>
</svg></body></html>
